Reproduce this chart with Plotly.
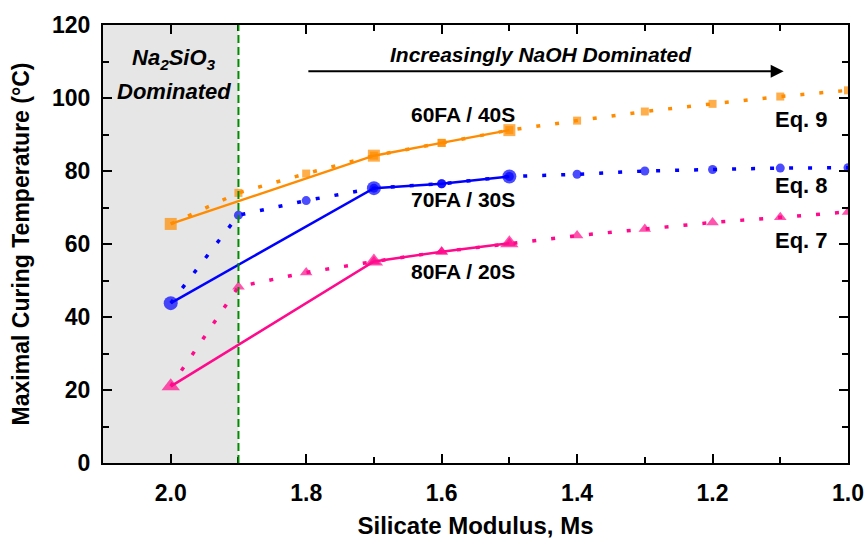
import plotly.graph_objects as go

# Experimental (solid) data
ms_exp = [2.0, 1.7, 1.6, 1.5]
t60_exp = [65.5, 84.2, 87.7, 91.2]
t70_exp = [43.8, 75.3, 76.5, 78.5]
t80_exp = [21.0, 55.2, 57.9, 60.2]

# Equation (dotted) data
ms_eq = [2.0, 1.9, 1.8, 1.7, 1.6, 1.5, 1.4, 1.3, 1.2, 1.1, 1.0]
t60_eq = [65.5, 74.0, 79.3, 84.2, 87.7, 91.2, 93.8, 96.3, 98.4, 100.4, 102.1]
t70_eq = [43.8, 67.9, 71.9, 75.3, 76.5, 78.5, 79.1, 80.0, 80.4, 80.8, 80.9]
t80_eq = [21.0, 48.3, 52.2, 55.2, 57.9, 60.2, 62.3, 64.1, 65.9, 67.3, 68.8]

x_ticks = [2.0, 1.8, 1.6, 1.4, 1.2, 1.0]
y_ticks = [0, 20, 40, 60, 80, 100, 120]

C60 = "#FF8C00"
C70 = "#0000FF"
C80 = "#FF0A8C"

FONT = "Liberation Sans, Arial, sans-serif"

fig = go.Figure()

# shaded Na2SiO3 region
fig.add_vrect(x0=2.1, x1=1.9, fillcolor="#E6E6E6", line_width=0, layer="below")
fig.add_vline(x=1.9, line=dict(color="#008C00", width=2, dash="8px,4px"))

series = [
    (t60_eq, t60_exp, C60, "square", 12, 8),
    (t70_eq, t70_exp, C70, "circle", 14, 9),
    (t80_eq, t80_exp, C80, "triangle-up", 16, 11),
]
for eq, ex, col, sym, big, small in series:
    eq_sizes = [0] + [small] * (len(ms_eq) - 1)
    fig.add_trace(go.Scatter(
        x=ms_eq, y=eq, mode="lines+markers",
        line=dict(color=col, width=3.5, dash="4px,15px"),
        marker=dict(symbol=sym, size=eq_sizes, color=col, line_width=0),
        showlegend=False))
    fig.add_trace(go.Scatter(
        x=ms_exp, y=ex, mode="lines+markers",
        line=dict(color=col, width=2.5),
        marker=dict(symbol=sym, size=[big, big, small, big], color=col, line_width=0),
        showlegend=False))

ann = [
    dict(x=1.568, y=95.4, text="<b>60FA / 40S</b>", size=21),
    dict(x=1.568, y=72.3, text="<b>70FA / 30S</b>", size=21),
    dict(x=1.568, y=52.4, text="<b>80FA / 20S</b>", size=21),
    dict(x=1.069, y=94.1, text="<b>Eq. 9</b>", size=22),
    dict(x=1.069, y=75.9, text="<b>Eq. 8</b>", size=22),
    dict(x=1.069, y=60.9, text="<b>Eq. 7</b>", size=22),
    dict(x=1.453, y=111.9, text="<b><i>Increasingly NaOH Dominated</i></b>", size=21),
    dict(x=1.995, y=110.6, text="<b><i>Na<sub>2</sub>SiO<sub>3</sub></i></b>", size=22),
    dict(x=1.995, y=101.9, text="<b><i>Dominated</i></b>", size=22),
]
for a in ann:
    fig.add_annotation(x=a["x"], y=a["y"], text=a["text"], showarrow=False,
                       font=dict(family=FONT, size=a["size"], color="black"),
                       xanchor="center", yanchor="middle")

# arrow
fig.add_annotation(x=1.095, y=107.3, ax=1.799, ay=107.3, xref="x", yref="y",
                   axref="x", ayref="y", text="", showarrow=True,
                   arrowhead=2, arrowsize=1.3, arrowwidth=2, arrowcolor="black")

axis_common = dict(
    showline=True, linecolor="black", linewidth=2, mirror="ticks",
    ticks="inside", ticklen=9, tickwidth=2, tickcolor="black",
    showgrid=False, zeroline=False, automargin=False,
    tickfont=dict(family=FONT, size=23, color="black", weight="bold"),
)

fig.update_xaxes(**axis_common, range=[2.1, 1.0], tickvals=x_ticks,
                 ticktext=[f"<b>{v:.1f}</b>" for v in x_ticks],
                 ticklabelstandoff=8,
                 minor=dict(dtick=0.1, tick0=0, ticks="inside", ticklen=6,
                            tickwidth=2, tickcolor="black"),
                 title=dict(text="<b>Silicate Modulus, Ms</b>", standoff=18,
                            font=dict(family=FONT, size=24, color="black")))
fig.update_yaxes(**axis_common, range=[0, 120], tickvals=y_ticks,
                 ticktext=[f"<b>{v}</b>" for v in y_ticks],
                 ticklabelstandoff=6,
                 minor=dict(dtick=10, tick0=0, ticks="inside", ticklen=6,
                            tickwidth=2, tickcolor="black"),
                 title=dict(text="<b>Maximal Curing Temperature (°C)</b>", standoff=16,
                            font=dict(family=FONT, size=23, color="black")))

fig.update_layout(
    width=867, height=539,
    margin=dict(l=103, r=19, t=25, b=76),
    paper_bgcolor="white", plot_bgcolor="white",
)

fig.write_html("out.html")
